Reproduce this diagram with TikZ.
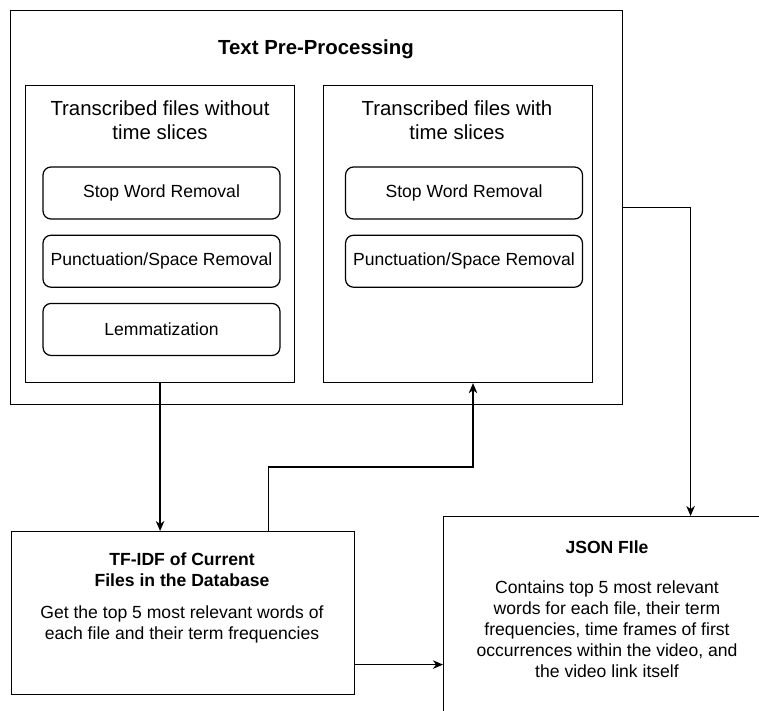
\documentclass[tikz,border=0pt]{standalone}
\usepackage{fontspec}
\setmainfont{Liberation Sans}
\usetikzlibrary{positioning,arrows.meta}

\begin{document}
\begin{tikzpicture}[
    x=0.02cm, y=-0.02cm,
    line width=0.7pt,
    >={Stealth[length=2mm, width=1.7mm, inset=0.6mm]},
    node distance=0.3cm,
    plainbox/.style={
        draw, rectangle, inner sep=0pt, anchor=north west
      },
    stepbox/.style={
        draw, rounded corners=0.16cm, minimum width=4.74cm, minimum height=1.04cm,
        inner sep=0pt, font=\fontsize{10}{11.9}\selectfont
      },
    headtext/.style={align=center, inner sep=0pt, font=\fontsize{11.6}{13.6}\selectfont},
    titletext/.style={align=center, inner sep=0pt, font=\fontsize{11.6}{13.6}\selectfont\bfseries},
    bodytext/.style={align=center, inner sep=0pt, font=\fontsize{10}{11.9}\selectfont},
    boldbody/.style={align=center, inner sep=0pt, font=\fontsize{10}{11.9}\selectfont\bfseries},
  ]
  \useasboundingbox (0,0) rectangle (759,710);
  \clip (0,0) rectangle (759,710);

  % pre-processing block
  \node[plainbox, minimum width=12.24cm, minimum height=7.88cm] (pre) at (10,10) {};
  \node[titletext] (preT) at (316,49) {Text Pre-Processing};
  \node[plainbox, minimum width=5.38cm, minimum height=5.94cm] (noTS) at (25,85) {};
  \node[plainbox, minimum width=5.38cm, minimum height=5.94cm] (withTS) at (323,85) {};
  \node[headtext] (noTST) at (160,120) {Transcribed files without\\time slices};
  \node[headtext] (withTST) at (457,120) {Transcribed files with\\time slices};
  \node[stepbox] (swL) at (161.5,193) {Stop Word Removal};
  \node[stepbox] (psL) [below=of swL] {Punctuation/Space Removal};
  \node[stepbox] (lemL) [below=of psL] {Lemmatization};
  \node[stepbox] (swR) at (464,193) {Stop Word Removal};
  \node[stepbox] (psR) [below=of swR] {Punctuation/Space Removal};

  % lower boxes
  \node[plainbox, minimum width=6.86cm, minimum height=3.26cm] (tfidf) at (11,531) {};
  \node[boldbody] (tfidfT) at (182,569.5) {TF-IDF of Current\\Files in the Database};
  \node[bodytext] (tfidfB) at (182,624.5) {Get the top 5 most relevant words of\\each file and their term frequencies};
  \node[plainbox, minimum width=9.88cm, minimum height=5cm] (json) at (443,516) {};
  \node[boldbody] (jsonT) at (607,547) {JSON FIle};
  \node[bodytext] (jsonB) at (607,629.5) {Contains top 5 most relevant\\words for each file, their term\\frequencies, time frames of first\\occurrences within the video, and\\the video link itself};

  \coordinate (loop) at (473,467);
  \draw[->] (noTS.south) -- (noTS.south |- tfidf.north);
  \draw[->] ([xshift=1.71cm]tfidf.north) |- (loop) -- (loop |- withTS.south);
  \draw[->] (pre.east) -| (json.north);
  \draw[->] ([yshift=-1.03cm]tfidf.east) -- ([yshift=-1.03cm]tfidf.east -| json.west);
\end{tikzpicture}
\end{document}
